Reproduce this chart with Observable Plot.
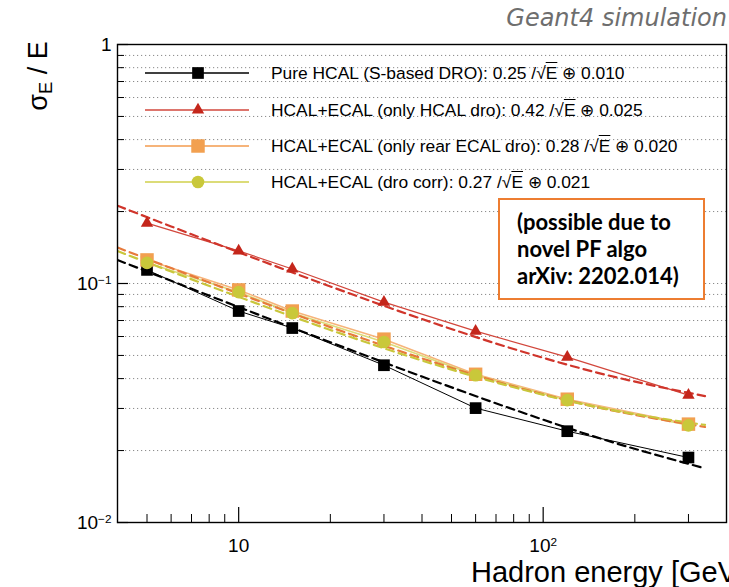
<!DOCTYPE html>
<html><head><meta charset="utf-8">
<script src="https://cdn.jsdelivr.net/npm/d3@7"></script>
<script src="https://cdn.jsdelivr.net/npm/@observablehq/plot@0.6"></script>
<style>
body{margin:0;background:#fff;}
#wrap{position:relative;width:729px;height:587px;overflow:hidden;font-family:"Liberation Sans",Arial,sans-serif;}
#wrap svg{position:absolute;left:0;top:0;}
.ov{position:absolute;white-space:nowrap;}
#title{right:2px;top:4px;font-family:"DejaVu Sans",sans-serif;font-style:italic;font-size:24px;color:#6e6e6e;}
#ylab{left:40px;top:76px;font-size:27px;transform:translate(-50%,-50%) rotate(-90deg);}
#ylab sub{font-size:0.68em;vertical-align:-0.25em;}
#xlab{left:471px;top:560px;font-size:29px;line-height:24px;}
#legend{left:0;top:0;}
.lrow{position:absolute;height:20px;font-size:17.4px;line-height:20px;}
.lrow svg{position:absolute;left:0;top:0;}
.lrow span{position:absolute;left:126px;top:0;}
#note{left:498px;top:198px;width:203px;height:98px;border:2px solid #ed7d31;background:#fff;font-family:Lato,"Open Sans",sans-serif;font-weight:bold;font-size:22px;line-height:27px;padding:0;}
#note div{position:absolute;left:17px;top:8px;}
</style></head><body><div id="wrap"></div>
<script>
// ---- data ----
const energies = [5, 10, 15, 30, 60, 120, 300];
const pureHcal = [0.114, 0.0767, 0.0651, 0.0455, 0.0301, 0.0241, 0.0187];
const hcalEcalOnlyHcal = [0.179, 0.137, 0.115, 0.0836, 0.0632, 0.0492, 0.0341];
const hcalEcalRearEcal = [0.1255, 0.094, 0.0767, 0.0585, 0.0417, 0.0328, 0.0258];
const hcalEcalDroCorr = [0.122, 0.092, 0.0752, 0.0569, 0.0413, 0.0325, 0.0255];

const fitEnergies = [4, 6, 10, 20, 40, 80, 150, 340];
const fitPureHcal = [0.1254, 0.1026, 0.0797, 0.0568, 0.0408, 0.0297, 0.0227, 0.01685];
const fitOnlyHcal = [0.2115, 0.1733, 0.1351, 0.0972, 0.0710, 0.0532, 0.0424, 0.0338];
const fitRearEcal = [0.1414, 0.1160, 0.0908, 0.0657, 0.0486, 0.0371, 0.0304, 0.0251];
const fitDroCorr = [0.1366, 0.1122, 0.0879, 0.0639, 0.0476, 0.0368, 0.0304, 0.0256];

const seriesLabels = [
  ["Pure HCAL (S-based DRO): 0.25 /", "0.010"],
  ["HCAL+ECAL (only HCAL dro): 0.42 /", "0.025"],
  ["HCAL+ECAL (only rear ECAL dro): 0.28 /", "0.020"],
  ["HCAL+ECAL (dro corr): 0.27 /", "0.021"]
];
const yMajorTicks = [0.01, 0.1, 1];
const yMinorTicks = [0.02,0.03,0.04,0.05,0.06,0.07,0.08,0.09,0.2,0.3,0.4,0.5,0.6,0.7,0.8,0.9];
const xMajorTicks = [10, 100];
const xMinorTicks = [5,6,7,8,9,20,30,40,50,60,70,80,90,200,300];
const titleText = "Geant4 simulation";
const xLabel = "Hadron energy [GeV]";
const noteLines = ["(possible due to", "novel PF algo", "arXiv: 2202.014)"];

// ---- styles ----
const styles = [
  {line:"#000000", lw:1, dash:"#000000", marker:"square", fill:"#000000", r:6.6},
  {line:"#d2473c", lw:1.2, dash:"#d0352b", marker:"triangle", fill:"#c4261b", r:4.6},
  {line:"#f6b47a", lw:1.6, dash:"#e77a3c", marker:"square", fill:"#f2a050", r:7.6},
  {line:"#dcdc78", lw:1.6, dash:"#c9c63c", marker:"circle", fill:"#c9c83a", r:6.3}
];
const pts = [pureHcal, hcalEcalOnlyHcal, hcalEcalRearEcal, hcalEcalDroCorr]
  .map(vals => energies.map((E, i) => ({E, v: vals[i]})));
const fits = [fitPureHcal, fitOnlyHcal, fitRearEcal, fitDroCorr]
  .map(vals => fitEnergies.map((E, i) => ({E, v: vals[i]})));

const W = 729, H = 587, mL = 117, mR = 3, mT = 44, mB = 65;
const fw = W - mL - mR, fh = H - mT - mB;

const sup = d => d === 1 ? "1" : d === 10 ? "10" : "10^" + String(Math.round(Math.log10(d))).replace("-", "\u2212");

const marks = [
  Plot.ruleY([...yMinorTicks, ...yMajorTicks], {stroke:"#8a8a8a", strokeDasharray:"1.2,2.8", strokeWidth:1}),
  Plot.tickY(yMajorTicks, {insetRight: fw - 11, stroke:"#000", strokeWidth:1.2}),
  Plot.tickY(yMinorTicks, {insetRight: fw - 7, stroke:"#000", strokeWidth:1}),
  Plot.tickX(xMajorTicks, {insetTop: fh - 15, stroke:"#000", strokeWidth:1.2}),
  Plot.tickX(xMinorTicks, {insetTop: fh - 8, stroke:"#000", strokeWidth:1}),
];
pts.forEach((p, i) => marks.push(Plot.line(p, {x:"E", y:"v", stroke: styles[i].line, strokeWidth: styles[i].lw})));
fits.forEach((p, i) => marks.push(Plot.line(p, {x:"E", y:"v", stroke: styles[i].dash, strokeWidth: 2.2, strokeDasharray:"8,5", curve:"monotone-x", clip:true})));
pts.forEach((p, i) => marks.push(Plot.dot(p, {x:"E", y:"v", symbol: styles[i].marker, r: styles[i].r, fill: styles[i].fill, stroke:"none"})));
marks.push(
  Plot.frame({stroke:"#000", strokeWidth:1.4}),
  Plot.axisY({ticks: yMajorTicks, tickSize:0, tickPadding:6, tickFormat: sup, fontSize:19, label:null}),
  Plot.axisX({ticks: xMajorTicks, tickSize:0, tickPadding:16, tickFormat: sup, fontSize:19, label:null})
);

const chart = Plot.plot({
  width: W, height: H,
  marginLeft: mL, marginRight: mR, marginTop: mT, marginBottom: mB,
  style: {fontFamily: '"Liberation Sans", Arial, sans-serif', color:"#000", background:"transparent"},
  x: {type:"log", domain:[4, 400], label:null},
  y: {type:"log", domain:[0.01, 1], label:null},
  marks
});
const wrap = document.getElementById("wrap");
wrap.appendChild(chart);

// superscripts for power-of-ten labels
d3.select(chart).selectAll('g[aria-label$="tick label"] text').each(function(){
  const m = this.textContent.match(/^10\^(.+)$/);
  if (m) {
    this.textContent = "10";
    d3.select(this).append("tspan").attr("dy","-0.5em").attr("font-size","0.62em").text(m[1]);
  }
});

// overlays
const add = (id, html) => { const d = document.createElement("div"); d.className = "ov"; d.id = id; d.innerHTML = html; wrap.appendChild(d); return d; };
add("title", titleText);
add("ylab", "&sigma;<sub>E</sub> / E");
add("xlab", xLabel);
add("note", "<div>" + noteLines.join("<br>") + "</div>");

const legend = add("legend", "");
const rowTops = [63, 100, 136, 172];
seriesLabels.forEach((lab, i) => {
  const s = styles[i];
  const row = document.createElement("div");
  row.className = "lrow";
  row.style.left = "145px"; row.style.top = rowTops[i] + "px"; row.style.width = "560px";
  const sv = d3.create("svg").attr("width", 120).attr("height", 20);
  sv.append("line").attr("x1", 0).attr("x2", 104).attr("y1", 10).attr("y2", 10).attr("stroke", s.line).attr("stroke-width", s.lw + 0.3);
  const sym = s.marker === "square" ? d3.symbolSquare : s.marker === "triangle" ? d3.symbolTriangle : d3.symbolCircle;
  sv.append("path").attr("transform", "translate(53,10)").attr("d", d3.symbol(sym, Math.PI * s.r * s.r)()).attr("fill", s.fill);
  row.appendChild(sv.node());
  const sp = document.createElement("span");
  sp.innerHTML = lab[0] + "\u221A<span style='position:static;text-decoration:overline'>E</span> \u2295 " + lab[1];
  row.appendChild(sp);
  legend.appendChild(row);
});
</script></body></html>
